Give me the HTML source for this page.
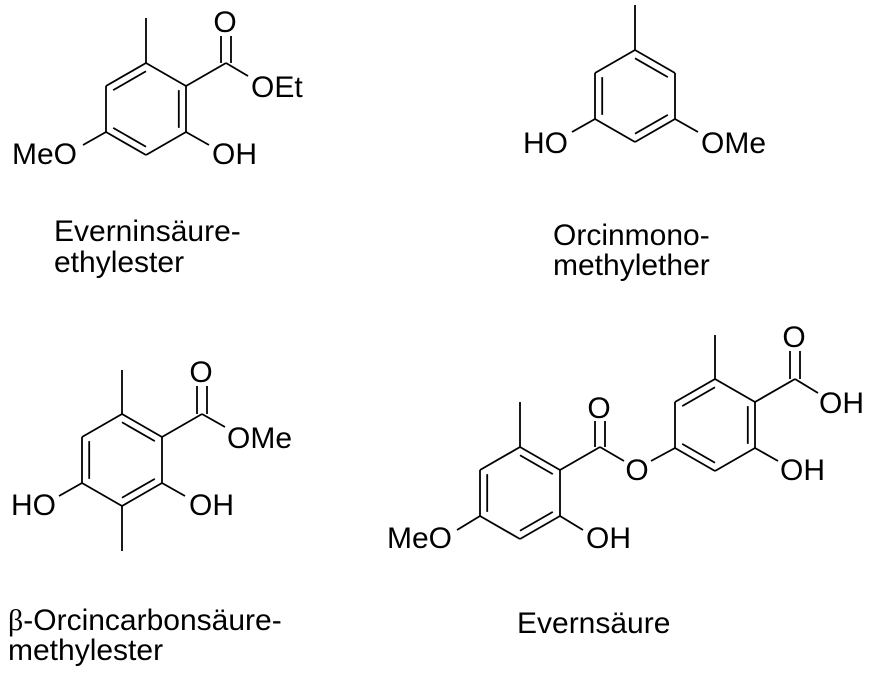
<!DOCTYPE html>
<html><head><meta charset="utf-8"><style>
html,body{margin:0;padding:0;background:#fff;}
svg{display:block;}
text{font-family:"Liberation Sans",Arial,sans-serif;fill:#000;}
.a{font-size:30px;}
.l{font-size:30px;}
</style></head><body>
<svg id="s" width="873" height="680" viewBox="0 0 873 680" xmlns="http://www.w3.org/2000/svg">
<g id="b" stroke="#000" stroke-width="1.8" fill="none" stroke-linecap="butt"></g>
<!-- S1 -->
<text class="a" x="225" y="32" text-anchor="middle">O</text>
<text class="a" x="251" y="97">OEt</text>
<text class="a" x="12" y="164">MeO</text>
<text class="a" x="212" y="164">OH</text>
<text class="l" x="54" y="241">Everninsäure-</text>
<text class="l" x="54" y="272">ethylester</text>
<!-- S2 -->
<text class="a" x="523" y="153">HO</text>
<text class="a" x="701" y="153">OMe</text>
<text class="l" x="553" y="245">Orcinmono-</text>
<text class="l" x="553" y="275">methylether</text>
<!-- S3 -->
<text class="a" x="201" y="382" text-anchor="middle">O</text>
<text class="a" x="227" y="448">OMe</text>
<text class="a" x="11" y="515">HO</text>
<text class="a" x="189" y="515">OH</text>
<text class="l" x="8" y="630"><tspan style="font-family:'Liberation Serif',serif">β</tspan>-Orcincarbonsäure-</text>
<text class="l" x="8" y="660">methylester</text>
<!-- S4 -->
<text class="a" x="599" y="418" text-anchor="middle">O</text>
<text class="a" x="637" y="480" text-anchor="middle">O</text>
<text class="a" x="387" y="548">MeO</text>
<text class="a" x="586" y="548">OH</text>
<text class="a" x="794" y="347" text-anchor="middle">O</text>
<text class="a" x="819" y="413">OH</text>
<text class="a" x="780" y="480">OH</text>
<text class="l" x="517" y="633">Evernsäure</text>
</svg>
<script>
(function(){
var g=document.getElementById('b'),NS='http://www.w3.org/2000/svg';
function L(x1,y1,x2,y2){var e=document.createElementNS(NS,'line');e.setAttribute('x1',x1);e.setAttribute('y1',y1);e.setAttribute('x2',x2);e.setAttribute('y2',y2);g.appendChild(e);}
function ring(cx,cy,dbl){
 var p=[[cx,cy-46],[cx+40,cy-23],[cx+40,cy+23],[cx,cy+46],[cx-40,cy+23],[cx-40,cy-23]];
 for(var i=0;i<6;i++){var a=p[i],b=p[(i+1)%6];L(a[0],a[1],b[0],b[1]);}
 dbl.forEach(function(i){var a=p[i],b=p[(i+1)%6],f=0.18;
  L(a[0]+(cx-a[0])*f,a[1]+(cy-a[1])*f,b[0]+(cx-b[0])*f,b[1]+(cy-b[1])*f);});
 return p;
}
var p=ring(146,109,[5,1,3]);
L(146,63,146,18);
L(186,86,226,63); L(226,63,248,76);
L(221,63,221,36); L(231,63,231,36);
L(186,132,209,145); L(106,132,83,145);
p=ring(635,96,[0,4,2]);
L(635,50,635,5);
L(595,119,572,132); L(675,119,698,132);
p=ring(122,460,[0,4,2]);
L(122,414,122,370); L(122,506,122,551);
L(162,437,202,414); L(202,414,225,427);
L(197,414,197,386); L(207,414,207,386);
L(82,483,59,496); L(162,483,185,496);
p=ring(520,493,[0,4,2]);
L(520,447,520,402);
L(560,470,600,447); L(600,447,624,461);
L(595,447,595,421); L(605,447,605,421);
L(480,516,457,530); L(560,516,583,530);
L(651,461,675,448);
p=ring(715,425,[5,1,3]);
L(715,379,715,335);
L(755,402,795,379); L(795,379,818,393);
L(790,379,790,351); L(800,379,800,351);
L(755,448,778,461);
})();
</script>
</body></html>
